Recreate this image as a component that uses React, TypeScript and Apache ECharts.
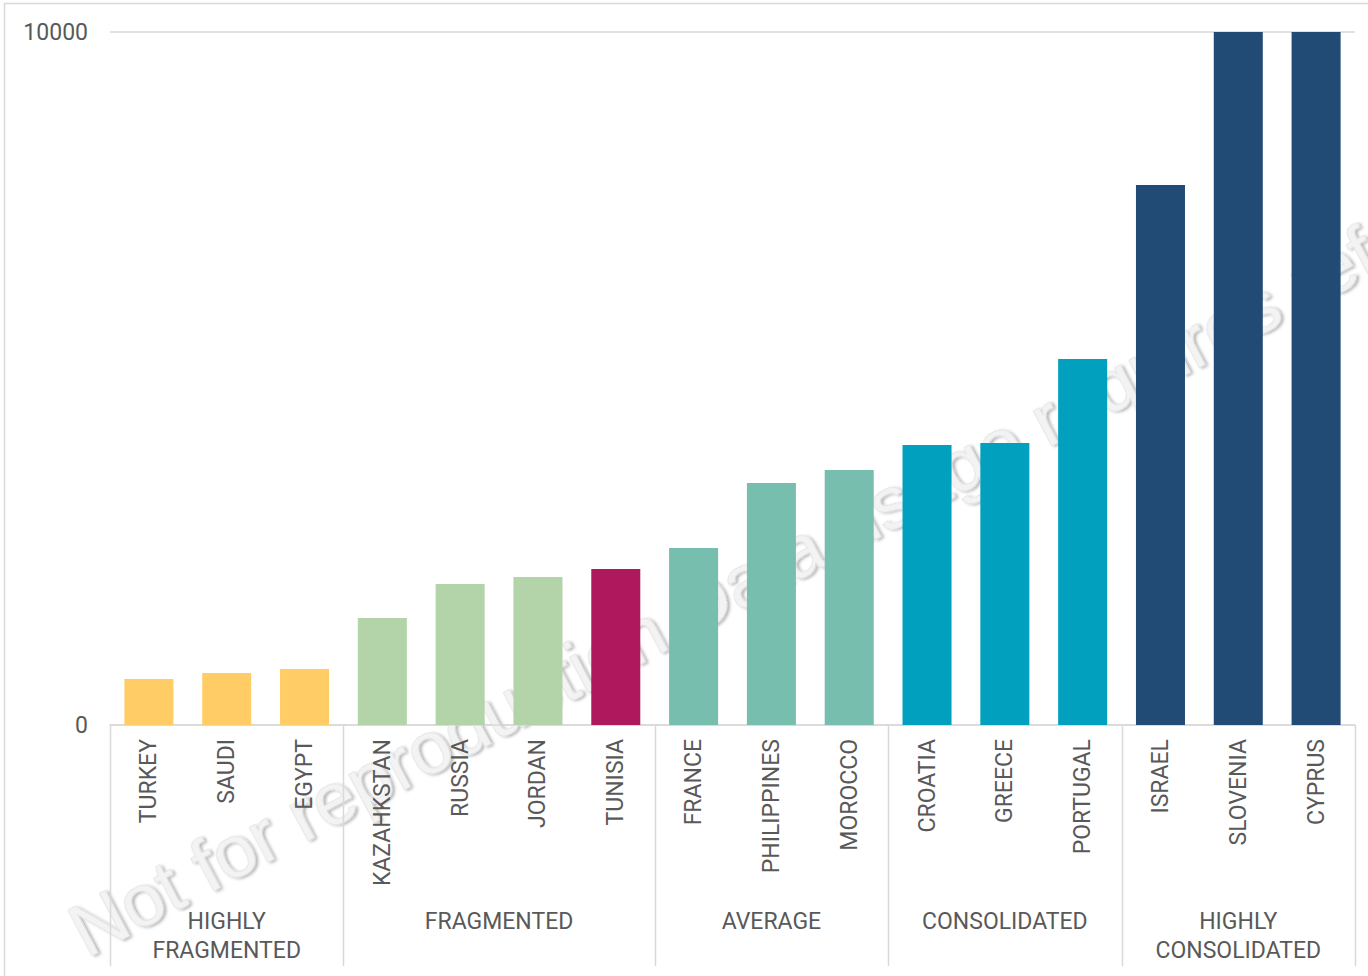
import React, { useEffect, useRef } from "react";
import * as echarts from "echarts";

const categories = [
  "TURKEY", "SAUDI", "EGYPT", "KAZAHKSTAN", "RUSSIA", "JORDAN", "TUNISIA",
  "FRANCE", "PHILIPPINES", "MOROCCO", "CROATIA", "GREECE", "PORTUGAL",
  "ISRAEL", "SLOVENIA", "CYPRUS",
];
const values = [
  664, 750, 808, 1544, 2035, 2136, 2251, 2554, 3492, 3680, 4040, 4069, 5281,
  7792, 10000, 10000,
];
const barColors = [
  "#FFCC66", "#FFCC66", "#FFCC66", "#B3D3A8", "#B3D3A8", "#B3D3A8", "#B0185E",
  "#77BEAE", "#77BEAE", "#77BEAE", "#00A0BE", "#00A0BE", "#00A0BE",
  "#214A74", "#214A74", "#214A74",
];
const groupNames = [
  "HIGHLY\nFRAGMENTED", "FRAGMENTED", "AVERAGE", "CONSOLIDATED", "HIGHLY\nCONSOLIDATED",
];
const groupStarts = [0, 3, 7, 10, 13];
const groupEnds = [2, 6, 9, 12, 15];
const yTicks = [0, 10000];

const TEXT = "#595959";
const LINE = "#d9d9d9";
const FONT = "Roboto";

export default function App() {
  const ref = useRef<HTMLDivElement>(null);
  useEffect(() => {
    if (!ref.current) return;
    const chart = echarts.init(ref.current, null, { renderer: "svg" });
    const option: any = {
      animation: false,
      backgroundColor: "#ffffff",
      grid: { left: 110, right: 13, top: 32, bottom: 251, containLabel: false },
      xAxis: {
        type: "category",
        data: categories,
        axisLine: { show: true, lineStyle: { color: LINE, width: 1.5 } },
        axisTick: { show: false },
        axisLabel: {
          rotate: 90,
          margin: 14,
          color: TEXT,
          fontFamily: FONT,
          fontSize: 23,
          interval: 0,
        },
      },
      yAxis: {
        type: "value",
        min: yTicks[0],
        max: yTicks[1],
        interval: yTicks[1] - yTicks[0],
        axisLine: { show: false },
        axisTick: { show: false },
        splitLine: { show: true, lineStyle: { color: LINE, width: 1.5 } },
        axisLabel: {
          color: TEXT,
          fontFamily: FONT,
          fontSize: 23,
          margin: 22,
          formatter: (v: number) => String(v),
        },
      },
      series: [
        {
          type: "bar",
          data: values.map((v, i) => ({ value: v, itemStyle: { color: barColors[i] } })),
          barCategoryGap: "37%",
          z: 5,
        },
      ],
    };
    chart.setOption(option);

    const catX = (i: number) => chart.convertToPixel({ xAxisIndex: 0 }, i) as number;
    const half = (catX(1) - catX(0)) / 2;
    const y0 = chart.convertToPixel({ yAxisIndex: 0 }, 0) as number;
    const bounds = [groupStarts[0], ...groupEnds.map((e) => e + 1)];
    const elements: any[] = [];
    // watermark
    elements.push({
      type: "text",
      x: 92,
      y: 968,
      rotation: (28 * Math.PI) / 180,
      z: 0,
      silent: true,
      style: {
        text: "Not for reproduction Data usage requires ref",
        fontFamily: "Liberation Sans",
        fontSize: 75,
        fill: "#f3f3f3",
        stroke: "#d6d6d6",
        lineWidth: 1,
        textShadowColor: "rgba(0,0,0,0.3)",
        textShadowBlur: 3,
        textShadowOffsetX: 2,
        textShadowOffsetY: 2,
        verticalAlign: "bottom",
        align: "left",
      },
    });
    bounds.forEach((b) => {
      const x = Math.round(catX(b) - half) + 0.5;
      elements.push({
        type: "line",
        z: 10,
        shape: { x1: x, y1: y0, x2: x, y2: 966 },
        style: { stroke: LINE, lineWidth: 1.5 },
      });
    });
    groupNames.forEach((name, g) => {
      const cx = (catX(groupStarts[g]) + catX(groupEnds[g])) / 2;
      elements.push({
        type: "text",
        z: 10,
        x: cx,
        y: 907,
        style: {
          text: name,
          fontFamily: FONT,
          fontSize: 23,
          lineHeight: 29,
          fill: TEXT,
          align: "center",
          verticalAlign: "top",
        },
      });
    });
    // outer border
    elements.push({
      type: "rect",
      z: 10,
      shape: { x: 4.5, y: 3.5, width: 1400, height: 1000 },
      style: { fill: "none", stroke: LINE, lineWidth: 1.5 },
    });
    chart.setOption({ graphic: { elements } });
    return () => chart.dispose();
  }, []);
  return (
    <div
      ref={ref}
      style={{ position: "fixed", left: 0, top: 0, width: 1368, height: 976 }}
    />
  );
}
